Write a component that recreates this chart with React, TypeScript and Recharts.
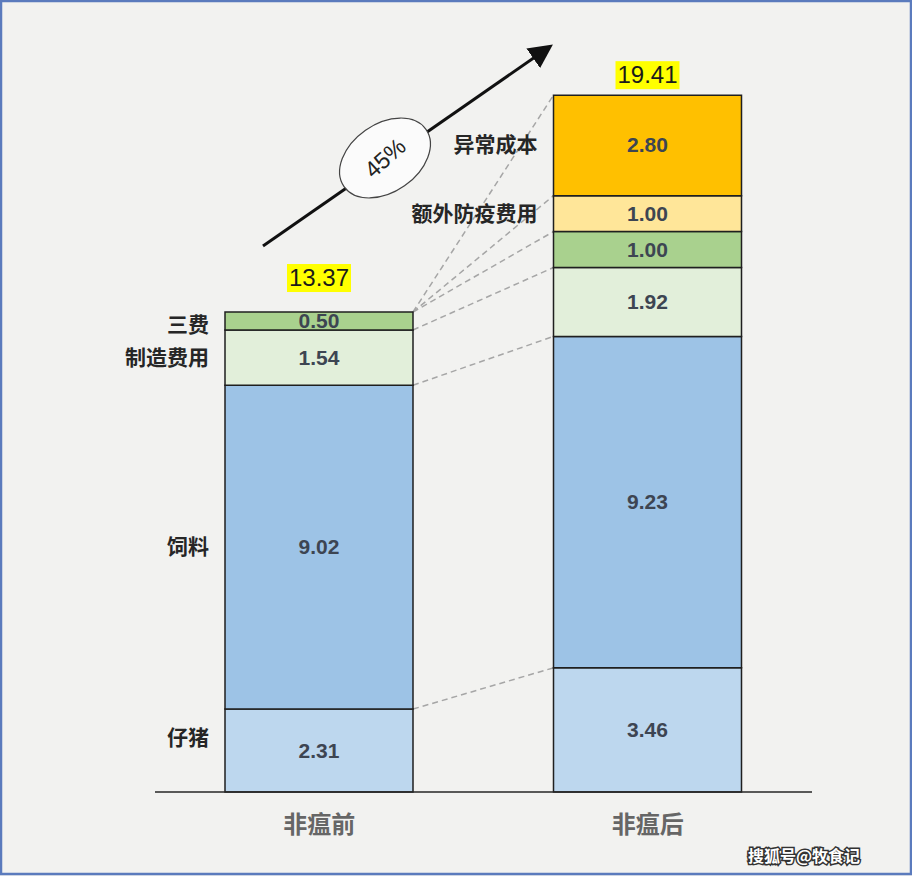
import { BarChart, Bar, XAxis, YAxis, LabelList, Rectangle } from 'recharts'

const CATEGORIES = ['非瘟前', '非瘟后']
const PIGLET = [2.31, 3.46]
const FEED = [9.02, 9.23]
const MANUFACTURING = [1.54, 1.92]
const OVERHEAD = [0.5, 1.0]
const EPIDEMIC = [0, 1.0]
const ABNORMAL = [0, 2.8]
const TOTALS = [13.37, 19.41]
const GROWTH = '45%'

const W = 912
const H = 876
const MARGIN = { top: 74, right: 100, bottom: 0, left: 155 }
const Y_MAX = 20
const BAR = 188
const FONT = '"Liberation Sans", Arial, "Noto Sans CJK SC", sans-serif'
const CJK = '"Noto Sans CJK SC", sans-serif'

// side: which stack the row name is written beside
const SERIES = [
  { key: 'piglet', name: '仔猪', values: PIGLET, side: 0, fill: '#bdd7ee' },
  { key: 'feed', name: '饲料', values: FEED, side: 0, fill: '#9dc3e6' },
  { key: 'manufacturing', name: '制造费用', values: MANUFACTURING, side: 0, fill: '#e2efda' },
  { key: 'overhead', name: '三费', values: OVERHEAD, side: 0, fill: '#a9d18e' },
  { key: 'epidemic', name: '额外防疫费用', values: EPIDEMIC, side: 1, fill: '#ffe699' },
  { key: 'abnormal', name: '异常成本', values: ABNORMAL, side: 1, fill: '#ffc000' },
]

const data = CATEGORIES.map((name, i) => {
  const row: Record<string, any> = { name }
  SERIES.forEach((s) => (row[s.key] = s.values[i]))
  return row
})

const STEP = (W - MARGIN.left - MARGIN.right) / CATEGORIES.length
const TOTAL_DY = [-34, -20]
const SIDE_DY: Record<string, number> = { piglet: -13, overhead: 4 }

function cumulative(i: number, upto: number) {
  let sum = 0
  for (let k = 0; k <= upto; k++) sum += SERIES[k].values[i]
  return sum
}

function catIndex(props: any) {
  const n = props.payload?.name
  const i = CATEGORIES.indexOf(n)
  return i >= 0 ? i : props.index
}

function makeShape(k: number) {
  const s = SERIES[k]
  return (props: any) => {
    const { x, y, width, height } = props
    const i = catIndex(props)
    const rect = <Rectangle x={x} y={y} width={width} height={height} fill={s.fill} stroke="#1f1f1f" strokeWidth={1.5} />
    const side = i === s.side ? (
      <text x={x - 16} y={y + height / 2 + (SIDE_DY[s.key] || 0)} dy={7} textAnchor="end"
        fontSize={21} fontWeight="bold" fill="#262626" fontFamily={CJK}>
        {s.name}
      </text>
    ) : null
    if (k !== 0) return <g>{rect}{side}</g>
    // bottom series: knows the zero line and scale, so it also draws connectors and totals
    const zeroY = y + height
    const ppu = height / PIGLET[i]
    const cx = x + width / 2
    const ty = zeroY - TOTALS[i] * ppu + TOTAL_DY[i]
    return (
      <g>
        {i === 0 && SERIES.map((r, j) => (
          <line key={r.key} x1={x + width} y1={zeroY - cumulative(0, j) * ppu}
            x2={x + STEP} y2={zeroY - cumulative(1, j) * ppu}
            stroke="#a6a6a6" strokeWidth={1.5} strokeDasharray="6 4" />
        ))}
        {rect}
        {side}
        <rect x={cx - 32} y={ty - 14} width={64} height={28} fill="#ffff00" />
        <text x={cx} y={ty} dy={8} textAnchor="middle" fontSize={24} fill="#1a1a1a" fontFamily={FONT}>
          {TOTALS[i].toFixed(2)}
        </text>
      </g>
    )
  }
}

function ValueLabel(props: any) {
  const vb = props.viewBox || props
  const v = Number(props.value)
  if (!v) return null
  return (
    <text x={vb.x + vb.width / 2} y={vb.y + vb.height / 2} dy={7} textAnchor="middle"
      fontSize={21} fontWeight="bold" fill="#3d4552" fontFamily={FONT}>
      {v.toFixed(2)}
    </text>
  )
}

function CategoryTick(props: any) {
  const { x, y, payload } = props
  return (
    <text x={x} y={y} dy={33} textAnchor="middle" fontSize={24} fontWeight="bold" fill="#666" fontFamily={CJK}>
      {payload.value}
    </text>
  )
}

export default function App() {
  return (
    <div style={{ position: 'absolute', left: 0, top: 0, width: W, height: H, background: '#f2f2f0' }}>
      <BarChart width={W} height={H} data={data} margin={MARGIN} barSize={BAR}>
        <XAxis dataKey="name" height={84} axisLine={{ stroke: '#262626', strokeWidth: 1.5 }}
          tickLine={false} tick={<CategoryTick />} interval={0} />
        <YAxis hide domain={[0, Y_MAX]} />
        {SERIES.map((s, k) => (
          <Bar key={s.key} dataKey={s.key} stackId="cost" fill={s.fill} stroke="#1f1f1f" strokeWidth={1.5}
            isAnimationActive={false} shape={makeShape(k)}>
            <LabelList dataKey={s.key} content={<ValueLabel />} />
          </Bar>
        ))}
      </BarChart>
      <svg width={W} height={H} style={{ position: 'absolute', left: 0, top: 0, pointerEvents: 'none' }}>
        <defs>
          <marker id="arrowhead" markerWidth="8" markerHeight="8" refX="6" refY="4" orient="auto" markerUnits="strokeWidth">
            <path d="M0,0 L8,4 L0,8 z" fill="#111" />
          </marker>
        </defs>
        <line x1={263} y1={246} x2={548} y2={48} stroke="#111" strokeWidth={3} markerEnd="url(#arrowhead)" />
        <g transform="translate(385,158) rotate(-35)">
          <ellipse cx={0} cy={0} rx={50} ry={34} fill="#fbfbfb" stroke="#444" strokeWidth={1.2} />
        </g>
        <text x={385} y={158} dy={8} transform="rotate(-42 385 158)" textAnchor="middle" fontSize={23}
          fill="#222" fontFamily={FONT}>
          {GROWTH}
        </text>
        <text x={860} y={862} textAnchor="end" fontSize={16} fontWeight="bold" fill="#fff" stroke="#333"
          strokeWidth={3} paintOrder="stroke" fontFamily={CJK}>
          搜狐号@牧食记
        </text>
        <rect x={1} y={1} width={W - 2} height={H - 3} fill="none" stroke="#5b7bbd" strokeWidth={2.5} />
      </svg>
    </div>
  )
}
